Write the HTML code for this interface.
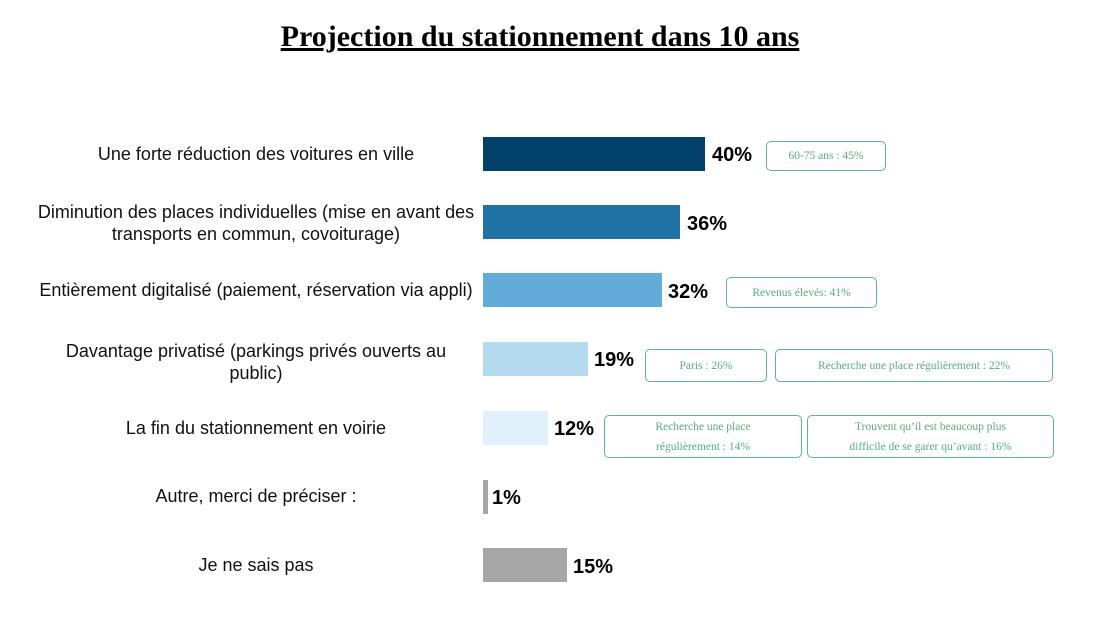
<!DOCTYPE html>
<html><head><meta charset="utf-8"><style>
body{margin:0;width:1100px;height:638px;background:#fff;position:relative;overflow:hidden;font-family:"Liberation Sans",sans-serif}
.t{position:absolute;left:0;width:1080px;top:20px;text-align:center;font:bold 30px "Liberation Serif",serif;text-decoration:underline;color:#000}
.l{position:absolute;left:0px;width:512px;text-align:center;font-size:18px;line-height:22px;color:#111}
.b{position:absolute;left:483px;height:34px}
.v{position:absolute;font-weight:bold;font-size:20px;color:#000}
.x{position:absolute;border:1.5px solid #5cb88a;border-radius:5px;box-sizing:border-box;color:#5aaa85;font:11.5px "Liberation Serif",serif;display:flex;align-items:center;justify-content:center;text-align:center;line-height:20px}
</style></head><body>
<div class="t">Projection du stationnement dans 10 ans</div>
<div class="l" style="top:143px">Une forte réduction des voitures en ville</div>
<div class="l" style="top:201px">Diminution des places individuelles (mise en avant des<br>transports en commun, covoiturage)</div>
<div class="l" style="top:279px">Entièrement digitalisé (paiement, réservation via appli)</div>
<div class="l" style="top:340px">Davantage privatisé (parkings privés ouverts au<br>public)</div>
<div class="l" style="top:417px">La fin du stationnement en voirie</div>
<div class="l" style="top:485px">Autre, merci de préciser :</div>
<div class="l" style="top:554px">Je ne sais pas</div>
<div class="b" style="top:137px;width:222px;background:#02426a"></div>
<div class="b" style="top:205px;width:197px;background:#1f72a4"></div>
<div class="b" style="top:273px;width:179px;background:#62acd9"></div>
<div class="b" style="top:342px;width:105px;background:#b3daef"></div>
<div class="b" style="top:411px;width:65px;background:#e1f1fb"></div>
<div class="b" style="top:480px;width:5px;background:#a6a6a6"></div>
<div class="b" style="top:548px;width:84px;background:#a6a6a6"></div>
<div class="v" style="left:712px;top:144px">40%</div>
<div class="v" style="left:687px;top:213px">36%</div>
<div class="v" style="left:668px;top:281px">32%</div>
<div class="v" style="left:594px;top:349px">19%</div>
<div class="v" style="left:554px;top:418px">12%</div>
<div class="v" style="left:492px;top:487px">1%</div>
<div class="v" style="left:573px;top:556px">15%</div>
<div class="x" style="left:766px;top:141px;width:120px;height:30px">60-75 ans : 45%</div>
<div class="x" style="left:726px;top:277px;width:151px;height:31px">Revenus élevés: 41%</div>
<div class="x" style="left:645px;top:349px;width:122px;height:33px">Paris : 26%</div>
<div class="x" style="left:775px;top:349px;width:278px;height:33px">Recherche une place régulièrement : 22%</div>
<div class="x" style="left:604px;top:415px;width:198px;height:43px">Recherche une place<br>régulièrement : 14%</div>
<div class="x" style="left:807px;top:415px;width:247px;height:43px">Trouvent qu’il est beaucoup plus<br>difficile de se garer qu’avant : 16%</div>
</body></html>
